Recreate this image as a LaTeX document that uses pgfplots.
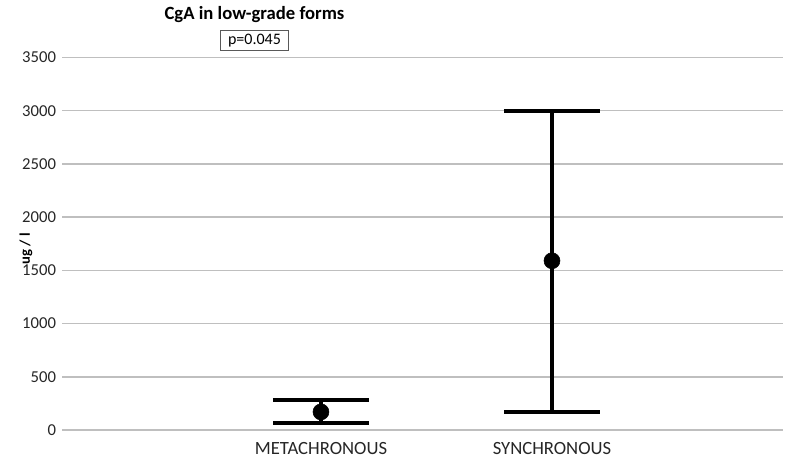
\documentclass[border=0pt]{standalone}
\usepackage{fontspec}
\setmainfont{Carlito}
\usepackage{pgfplots}
\pgfplotsset{compat=1.18}

\begin{document}
\begin{tikzpicture}
\useasboundingbox (0,0) rectangle (591.75pt,351pt);
\begin{axis}[
  at={(46.5pt,28.5pt)}, anchor=south west,
  scale only axis, width=540.75pt, height=279.4pt,
  xmin=-0.121, xmax=3, ymin=0, ymax=3500,
  ytick={0,500,...,3500},
  xtick={1,2}, xticklabels={METACHRONOUS,SYNCHRONOUS},
  axis line style={draw=none},
  major tick length=0pt,
  ymajorgrids, grid style={gray!50, line width=1.2pt},
  /pgf/number format/assume math mode=true,
  /pgf/number format/1000 sep={},
  tick label style={text=black!85},
  yticklabel style={font=\fontsize{12.5}{14}\selectfont, xshift=-1pt},
  xticklabel style={font=\fontsize{14}{16}\selectfont, yshift=-6pt},
  clip=false,
]
\addplot[only marks, mark=*, mark size=6pt, black,
  error bars/.cd, y dir=both, y explicit,
  error bar style={line width=2.3pt, black},
  error mark options={rotate=90, mark size=36pt, line width=3pt, black}]
  coordinates {
    (1,170) += (0,111) -= (0,104)
    (2,1590) += (0,1410) -= (0,1420)
  };
\node[font=\bfseries\fontsize{14}{16}\selectfont] at (rel axis cs:0.267,1) [yshift=31.9pt] {CgA in low-grade forms};
\node[draw=gray!70!black, line width=0.6pt, minimum width=51pt, minimum height=15pt, inner sep=1pt, font=\fontsize{12}{14}\selectfont] at (rel axis cs:0.267,1) [yshift=13pt] {p=0.045};
\node[xshift=-27pt, yshift=-4pt, rotate=90, font=\bfseries\fontsize{11}{13}\selectfont] at (rel axis cs:0,0.5) {ug / l};
\end{axis}
\end{tikzpicture}
\end{document}
